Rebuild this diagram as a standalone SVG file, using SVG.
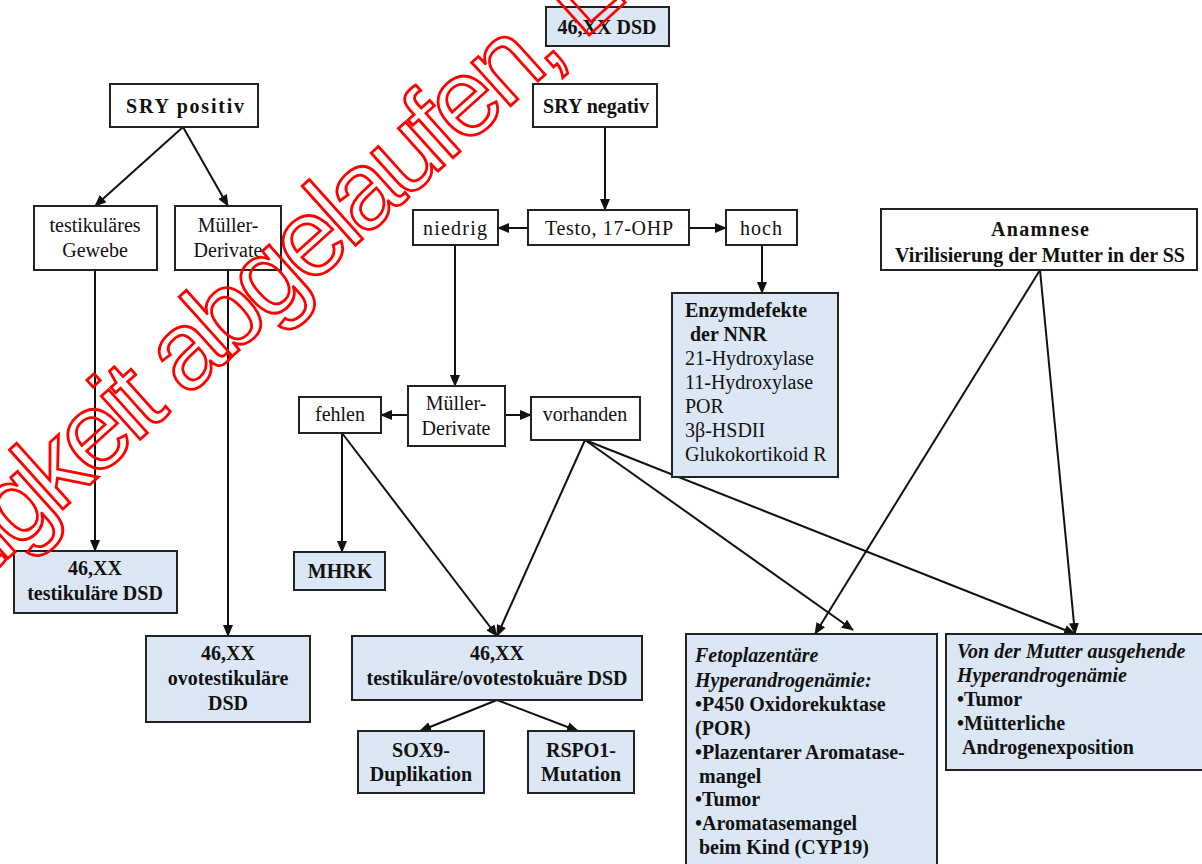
<svg xmlns="http://www.w3.org/2000/svg" width="1202" height="864" viewBox="0 0 1202 864">
<defs>
<marker id="ah" markerUnits="userSpaceOnUse" markerWidth="12" markerHeight="10" viewBox="0 0 12 10" refX="11" refY="5" orient="auto">
<path d="M0,0 L12,5 L0,10 Z" fill="#111"/>
</marker>
<style>
.b{stroke:#222;stroke-width:2;fill:#fff}
.f{stroke:#222;stroke-width:2;fill:#dbe7f4}
text{font-family:"Liberation Serif","Times New Roman",serif;font-size:20px;fill:#111}
.c{text-anchor:middle}
.bd{font-weight:bold}
.bi{font-weight:bold;font-style:italic}
.conn line{stroke:#111;stroke-width:2;marker-end:url(#ah)}
.wm{font-family:"Liberation Sans",Arial,sans-serif;font-size:110px;letter-spacing:-6px;fill:none;stroke:#ff0000;stroke-width:2.8}
</style>
</defs>
<rect width="1202" height="864" fill="#fff"/>
<g class="conn">
<line x1="183" y1="127" x2="95" y2="206"/>
<line x1="183" y1="127" x2="228" y2="206"/>
<line x1="605" y1="127" x2="605" y2="210"/>
<line x1="528" y1="228" x2="498" y2="228"/>
<line x1="689" y1="228" x2="726" y2="228"/>
<line x1="762" y1="245" x2="762" y2="293"/>
<line x1="455" y1="245" x2="455" y2="386"/>
<line x1="408" y1="415" x2="381" y2="415"/>
<line x1="505" y1="415" x2="531" y2="415"/>
<line x1="342" y1="433" x2="342" y2="552"/>
<line x1="342" y1="433" x2="497" y2="636"/>
<line x1="585" y1="440" x2="497" y2="636"/>
<line x1="585" y1="440" x2="853" y2="630"/>
<line x1="585" y1="440" x2="1075" y2="634"/>
<line x1="1040" y1="270" x2="815" y2="634"/>
<line x1="1040" y1="270" x2="1075" y2="634"/>
<line x1="95" y1="270" x2="95" y2="551"/>
<line x1="228" y1="270" x2="228" y2="636"/>
<line x1="497" y1="700" x2="420" y2="731"/>
<line x1="497" y1="700" x2="578" y2="731"/>
</g>
<g id="n-dsd"><rect class="f" x="546" y="7" width="123" height="39"/><text class="c bd" x="607" y="34">46,XX DSD</text></g>
<g id="n-srypos"><rect class="b" x="110" y="84" width="148" height="43"/><text class="c bd" x="185" y="113" font-size="22" textLength="118" lengthAdjust="spacing">SRY positiv</text></g>
<g id="n-sryneg"><rect class="b" x="533" y="84" width="124" height="43"/><text class="c bd" x="596" y="113" font-size="22">SRY negativ</text></g>
<g id="n-testgew"><rect class="b" x="34" y="206" width="123" height="64"/><text class="c" x="95" y="232">testikuläres</text><text class="c" x="95" y="257">Gewebe</text></g>
<g id="n-mueller1"><rect class="b" x="175" y="206" width="106" height="64"/><text class="c" x="228" y="232">Müller-</text><text class="c" x="228" y="257">Derivate</text></g>
<g id="n-niedrig"><rect class="b" x="413" y="210" width="85" height="35"/><text class="c" x="455" y="235" textLength="64" lengthAdjust="spacing">niedrig</text></g>
<g id="n-testo"><rect class="b" x="528" y="210" width="161" height="35"/><text class="c" x="609" y="235" textLength="128" lengthAdjust="spacing">Testo, 17-OHP</text></g>
<g id="n-hoch"><rect class="b" x="726" y="210" width="71" height="35"/><text class="c" x="761" y="235" textLength="42" lengthAdjust="spacing">hoch</text></g>
<g id="n-anamnese"><rect class="b" x="881" y="209" width="316" height="61"/><text class="c bd" x="1040" y="236" textLength="98" lengthAdjust="spacing">Anamnese</text><text class="c bd" x="1040" y="262">Virilisierung der Mutter in der SS</text></g>
<g id="n-enzym"><rect class="f" x="672" y="293" width="166" height="184"/>
<text class="bd" x="685" y="317">Enzymdefekte</text>
<text class="bd" x="690" y="341">der NNR</text>
<text x="685" y="365">21-Hydroxylase</text>
<text x="685" y="389">11-Hydroxylase</text>
<text x="685" y="413">POR</text>
<text x="685" y="437">3β-HSDII</text>
<text x="685" y="461">Glukokortikoid R</text></g>
<g id="n-mueller2"><rect class="b" x="408" y="386" width="97" height="60"/><text class="c" x="456" y="410">Müller-</text><text class="c" x="456" y="435">Derivate</text></g>
<g id="n-fehlen"><rect class="b" x="299" y="397" width="82" height="36"/><text class="c" x="340" y="421">fehlen</text></g>
<g id="n-vorhanden"><rect class="b" x="531" y="397" width="109" height="43"/><text class="c" x="585" y="421">vorhanden</text></g>
<g id="n-testdsd"><rect class="f" x="14" y="551" width="163" height="62"/><text class="c bd" x="95" y="575">46,XX</text><text class="c bd" x="95" y="600">testikuläre DSD</text></g>
<g id="n-mhrk"><rect class="f" x="294" y="552" width="91" height="38"/><text class="c bd" x="340" y="578">MHRK</text></g>
<g id="n-ovodsd"><rect class="f" x="146" y="636" width="164" height="86"/><text class="c bd" x="228" y="660">46,XX</text><text class="c bd" x="228" y="685">ovotestikuläre</text><text class="c bd" x="228" y="710">DSD</text></g>
<g id="n-testovo"><rect class="f" x="352" y="636" width="290" height="64"/><text class="c bd" x="497" y="660">46,XX</text><text class="c bd" x="497" y="685">testikuläre/ovotestokuäre DSD</text></g>
<g id="n-sox9"><rect class="f" x="358" y="731" width="126" height="62"/><text class="c bd" x="421" y="757">SOX9-</text><text class="c bd" x="421" y="781">Duplikation</text></g>
<g id="n-rspo1"><rect class="f" x="528" y="731" width="106" height="62"/><text class="c bd" x="581" y="757">RSPO1-</text><text class="c bd" x="581" y="781">Mutation</text></g>
<g id="n-feto"><rect class="f" x="686" y="634" width="251" height="240"/>
<text class="bi" x="695" y="662">Fetoplazentäre</text>
<text class="bi" x="695" y="687">Hyperandrogenämie:</text>
<text class="bd" x="695" y="711">•P450 Oxidorekuktase</text>
<text class="bd" x="695" y="735">(POR)</text>
<text class="bd" x="695" y="759">•Plazentarer Aromatase-</text>
<text class="bd" x="699" y="783">mangel</text>
<text class="bd" x="695" y="806">•Tumor</text>
<text class="bd" x="695" y="830">•Aromatasemangel</text>
<text class="bd" x="699" y="854">beim Kind (CYP19)</text></g>
<g id="n-mutter"><rect class="f" x="946" y="634" width="260" height="136"/>
<text class="bi" x="957" y="658">Von der Mutter ausgehende</text>
<text class="bi" x="957" y="682">Hyperandrogenämie</text>
<text class="bd" x="957" y="706">•Tumor</text>
<text class="bd" x="957" y="730">•Mütterliche</text>
<text class="bd" x="962" y="754">Androgenexposition</text></g>
<g id="watermark" transform="translate(186,398) rotate(-42)">
<text class="wm" x="-26" text-anchor="end">Gültigkeit</text>
<text class="wm" x="0">abgelaufen, L</text>
</g>
</svg>
